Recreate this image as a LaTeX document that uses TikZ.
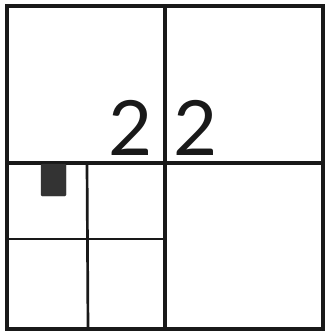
\documentclass[tikz,border=0pt]{standalone}
\usepackage{fontspec}
\setmainfont{TeX Gyre Heros}
\newfontfamily\thinfont{Lato}
\usetikzlibrary{positioning}
\tikzset{
  wall/.style={line width=2.7pt, black!90},
  inner/.style={line width=2.3pt, black!90},
  digit/.style={font=\thinfont\fontsize{65}{65}\selectfont, inner sep=0pt, black!90},
  blk/.style={fill=black!80, draw=black!80, rounded corners=1pt}
}
\begin{document}
\begin{tikzpicture}[x=0.03cm, y=-0.03cm]
  \useasboundingbox (0,0) rectangle (326,331);
  % outer square and main split
  \draw[wall] (7,6) rectangle (323,329);
  \draw[wall] (165,6) -- (165,329);
  \draw[wall] (7,163) -- (323,163);
  % lower left quarter
  \draw[inner] (87,163) -- (88,329);
  \draw[inner] (7,239) -- (165,239);
  \filldraw[blk] (41,164) rectangle (66,196);
  \node[digit] (two l) at (130.5,127.5) {2};
  \node[digit] (two r) at (196,127.5) {2};
\end{tikzpicture}
\end{document}
